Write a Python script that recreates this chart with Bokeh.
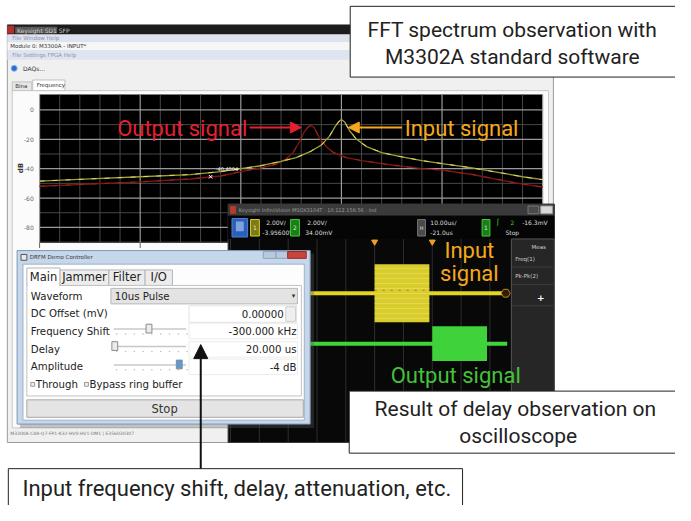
from bokeh.plotting import figure
from bokeh.models import Range1d, Arrow, NormalHead
from bokeh.core.properties import value
from bokeh.embed import file_html
from bokeh.resources import INLINE
import math

# ---------------- data ----------------
# FFT spectrum (frequency in MHz, level in dB)
freq_in_mhz = [0.0, 0.5, 1.0, 1.5, 1.8, 2.0, 2.2, 2.4, 2.55, 2.7, 2.8, 2.88, 2.94, 2.98, 3.0,
               3.03, 3.08, 3.15, 3.25, 3.4, 3.6, 3.8, 4.0, 4.3, 4.6, 4.8, 5.0]
input_db = [-48.5, -47.0, -45.5, -44.0, -42.0, -40.0, -38.0, -35.0, -32.5, -28.0, -24.0, -18.0, -11.0, -7.5, -6.6,
            -8.0, -14.0, -20.0, -25.0, -29.0, -32.0, -34.5, -36.5, -39.5, -43.0, -45.5, -47.5]
freq_out_mhz = [0.0, 0.5, 1.0, 1.5, 1.8, 2.0, 2.2, 2.35, 2.45, 2.52, 2.58, 2.63, 2.67, 2.7,
                2.73, 2.78, 2.85, 2.92, 3.05, 3.2, 3.5, 3.8, 4.0, 4.3, 4.6, 4.8, 5.0]
output_db = [-52.0, -50.5, -49.0, -47.0, -45.0, -42.0, -39.5, -37.0, -33.5, -29.0, -22.0, -15.0, -11.5, -10.6,
             -12.0, -19.0, -25.0, -29.0, -32.5, -34.5, -37.5, -40.0, -41.0, -44.0, -48.0, -50.5, -52.5]
db_ticks = [0, -20, -40, -60, -80]
db_tick_labels = ["0", "-20", "-40", "-60", "-80"]
db_minor = [-10, -30, -50, -70, -90]
freq_major = [0, 1, 2, 3, 4, 5]
freq_minor = [0.2, 0.4, 0.6, 0.8, 1.2, 1.4, 1.6, 1.8, 2.2, 2.4, 2.6, 2.8,
              3.2, 3.4, 3.6, 3.8, 4.2, 4.4, 4.6, 4.8]
fft_freq_span = [0.0, 5.0]
fft_db_span = [10.5, -90.5]
marker_freq = [1.7]
marker_db = [-45.5]
marker_label = ["-40.4004"]
marker_label_db = [-40.4]

# oscilloscope (time in us, normalised amplitude)
scope_time_span = [-50.0, 46.0]
scope_grid_us = [-50, -40, -30, -20, -10, 0, 10, 20, 30, 40]
input_pulse_us = [0.0, 19.0]
output_pulse_us = [20.0, 39.0]
input_amp = 1.0
output_amp = 0.6   # about -4 dB

# controller
tab_names = ["Main", "Jammer", "Filter", "I/O"]
row_labels = ["Waveform", "DC Offset (mV)", "Frequency Shift", "Delay", "Amplitude"]
row_values = ["10us Pulse", "0.00000", "-300.000 kHz", "20.000 us", "-4 dB"]

# ---------------- helpers ----------------
def lin(px, px0, v0, px1, v1):
    return v0 + (px - px0) * (v1 - v0) / (px1 - px0)

X0, X1, Y0, Y1 = 0, 691, 0, 521   # picture pixels

p = figure(width=675, height=505, x_range=Range1d(X0, X1), y_range=Range1d(Y1, Y0),
           x_axis_location=None, y_axis_location=None, toolbar_location=None,
           output_backend="svg", min_border=0, outline_line_color=None,
           background_fill_color="white", border_fill_color="white")
p.grid.visible = False

# FFT scales
p.extra_x_ranges["fx"] = Range1d(lin(X0, 40, 0, 555, 5), lin(X1, 40, 0, 555, 5))
p.extra_y_ranges["fy"] = Range1d(lin(Y1, 97, 10.5, 250, -90.5), lin(Y0, 97, 10.5, 250, -90.5))
# scope scales
p.extra_x_ranges["st"] = Range1d(lin(X0, 383, 0, 442, 20), lin(X1, 383, 0, 442, 20))
p.extra_y_ranges["c1"] = Range1d(lin(Y1, 302, 0, 272, 1), lin(Y0, 302, 0, 272, 1))
p.extra_y_ranges["c2"] = Range1d(lin(Y1, 354, 0, 324, 1), lin(Y0, 354, 0, 324, 1))


def rect(l, r, t, b, fill, line=None, lw=1, alpha=1.0, **kw):
    p.quad(left=[l], right=[r], top=[t], bottom=[b], fill_color=fill, fill_alpha=alpha,
           line_color=line, line_width=lw, **kw)


def txt(x, y, s, size, color, font="DejaVu Sans", align="left", base="middle", style="normal", angle=0, **kw):
    p.text(x=[x], y=[y], text=[s], text_font=value(font), text_font_size=f"{size}px",
           text_color=color, text_align=align, text_baseline=base, text_font_style=style,
           angle=angle, **kw)

# ---------------- FFT software window ----------------
rect(7, 566, 25, 456, "#f0f0f0", "#9a9a9a")
rect(7, 566, 25, 35, "#1c1c1c")
rect(7, 14, 26, 34, "#b03030")
rect(15, 58, 27, 34, "#5a5a5a")
txt(17, 30.5, "Keysight SD1 SFP", 6, "#c8c8c8")
rect(7, 566, 35, 43, "#dde2ee")
txt(12, 39, "File    Window    Help", 5.5, "#8d93a8")
rect(7, 566, 43, 51, "#f6f6f6")
txt(10, 47, "Module 0: M3300A - INPUT*", 5.5, "#333333")
rect(7, 566, 51, 61, "#dfe4f1")
txt(12, 56, "File    Settings    FPGA    Help", 5.5, "#8d93a8")
p.scatter(x=[14], y=[70], size=6, fill_color="#2a6fcf", line_color="#8fb5e8")
txt(23, 70, "DAQs...", 6, "#333333")
rect(12, 32, 84, 93, "#e6e6e6", "#c0c0c0")
txt(15, 88.5, "Bina", 5.5, "#333333")
rect(33, 66, 82, 93, "white", "#c0c0c0")
txt(37, 87.5, "Frequency", 5.5, "#333333")
rect(12, 561, 93, 441, "#fbfbfb", "#c8c8c8")
txt(10, 447, "M3300A-C48-Q7-FP1-K32-HV0-HV1-DM1  |  E356030307", 4.5, "#777777")

# FFT plot area
p.quad(left=[fft_freq_span[0]], right=[fft_freq_span[1]], top=[fft_db_span[0]], bottom=[fft_db_span[1]],
       fill_color="black", line_color=None, x_range_name="fx", y_range_name="fy")
p.segment(x0=freq_minor, x1=freq_minor, y0=[fft_db_span[0]] * len(freq_minor), y1=[fft_db_span[1]] * len(freq_minor),
          line_color="#474747", line_width=1, x_range_name="fx", y_range_name="fy")
p.segment(x0=[fft_freq_span[0]] * len(db_minor), x1=[fft_freq_span[1]] * len(db_minor), y0=db_minor, y1=db_minor,
          line_color="#474747", line_width=1, x_range_name="fx", y_range_name="fy")
p.segment(x0=freq_major, x1=freq_major, y0=[fft_db_span[0]] * len(freq_major), y1=[fft_db_span[1]] * len(freq_major),
          line_color="#9a9a9a", line_width=1.2, x_range_name="fx", y_range_name="fy")
p.segment(x0=[fft_freq_span[0]] * len(db_ticks), x1=[fft_freq_span[1]] * len(db_ticks), y0=db_ticks, y1=db_ticks,
          line_color="#9a9a9a", line_width=1.2, x_range_name="fx", y_range_name="fy")
p.segment(x0=freq_major, x1=freq_major, y0=[fft_db_span[1]] * len(freq_major), y1=[-94] * len(freq_major),
          line_color="#666666", line_width=1, x_range_name="fx", y_range_name="fy")
p.text(x=[34] * len(db_ticks), y=db_ticks, text=db_tick_labels, text_font=value("DejaVu Sans"),
       text_font_size="6px", text_color="#666666", text_align="right", text_baseline="middle",
       y_range_name="fy")
txt(21, 173, "dB", 7, "#333333", style="bold", align="center", angle=math.pi / 2)

# spectra
p.line(freq_out_mhz, output_db, line_color="#7e1515", line_width=1.4, x_range_name="fx", y_range_name="fy")
p.line(freq_out_mhz, output_db, line_color="#a42626", line_width=0.9, line_dash="5 8",
       x_range_name="fx", y_range_name="fy")
p.line(freq_in_mhz, input_db, line_color="#9e9e36", line_width=1.3, x_range_name="fx", y_range_name="fy")
p.line(freq_in_mhz, input_db, line_color="#e4e474", line_width=0.9, line_dash="5 8",
       x_range_name="fx", y_range_name="fy")
p.scatter(marker_freq, marker_db, marker="x", size=5, line_color="white", x_range_name="fx", y_range_name="fy")
p.text(x=[m + 0.05 for m in marker_freq], y=marker_label_db, text=marker_label, text_font=value("DejaVu Sans"),
       text_font_size="5px", text_color="white", text_baseline="middle", x_range_name="fx", y_range_name="fy")

# ---------------- oscilloscope window ----------------
rect(233, 567, 210, 456, "#080808", "#3a3a3a")
rect(233, 567, 210, 222, "#3a3a3a")
rect(235, 241, 212, 220, "#b83a2a")
txt(244, 216, "Keysight InfiniiVision MSOX3104T : 10.112.156.56 : Ind", 5, "#9a9a9a")
rect(540, 551, 212, 220, "#4a4a4a", "#777777")
rect(553, 565, 212, 220, "#d8d8d8", "#999999")
rect(233, 567, 222, 246, "#050505")
rect(237, 253, 225, 244, "#2b5fb8", "#4f80d8")
rect(241, 249, 228, 238, "#7fa3dd")
rect(256, 265, 226, 243, "#7d7a18", "#d6d030")
txt(260.5, 234.5, "1", 6, "#f0f0a0", align="center")
txt(272, 229, "2.00V/", 6, "#dddddd")
txt(268, 239, "-3.95600V", 6, "#dddddd")
rect(297, 306, 226, 243, "#1c7d1c", "#3fcf3a")
txt(301.5, 234.5, "2", 6, "#c8f0c8", align="center")
txt(314, 229, "2.00V/", 6, "#dddddd")
txt(312, 239, "34.00mV", 6, "#dddddd")
rect(427, 435, 226, 243, "#4a4a4a", "#777777")
txt(431, 234.5, "H", 5, "#dddddd", align="center")
txt(440, 229, "10.00us/", 6, "#dddddd")
txt(440, 239, "-21.0us", 6, "#dddddd")
rect(493, 501, 226, 243, "#1c7d1c", "#3fcf3a")
txt(497, 234.5, "1", 6, "#c8f0c8", align="center")
txt(508, 229, "\u0283", 7, "#3fcf3a")
txt(522, 229, "2", 6, "#3fcf3a")
txt(534, 229, "-16.3mV", 6, "#dddddd")
txt(517, 239, "Stop", 6, "#dddddd")

# scope graticule
p.segment(x0=scope_grid_us, x1=scope_grid_us, y0=[246] * len(scope_grid_us), y1=[456] * len(scope_grid_us),
          line_color="#2e2e2e", line_width=1, x_range_name="st")
# trigger markers
p.scatter(x=[input_pulse_us[0], output_pulse_us[0]], y=[249, 249], marker="inverted_triangle", size=6,
          fill_color="#f0a020", line_color="#f0a020", x_range_name="st")
# traces
p.segment(x0=[scope_time_span[0]], x1=[scope_time_span[1]], y0=[0], y1=[0], line_color="#e3d522",
          line_width=4, x_range_name="st", y_range_name="c1")
p.segment(x0=[scope_time_span[0]], x1=[scope_time_span[1]], y0=[0], y1=[0], line_color="#3fd43a",
          line_width=4, x_range_name="st", y_range_name="c2")
p.quad(left=[input_pulse_us[0]], right=[input_pulse_us[1]], top=[input_amp], bottom=[-input_amp],
       fill_color="#d8cd2c", line_color=None, hatch_pattern="horizontal_line", hatch_color="#efe77a",
       hatch_alpha=0.45, hatch_scale=5, x_range_name="st", y_range_name="c1")
p.segment(x0=[input_pulse_us[0]], x1=[input_pulse_us[1]], y0=[0.1], y1=[0.1], line_color="#c07a10",
          line_width=1, line_dash="2 6", x_range_name="st", y_range_name="c1")
p.quad(left=[output_pulse_us[0]], right=[output_pulse_us[1]], top=[output_amp], bottom=[-output_amp],
       fill_color="#3fd23a", line_color=None, x_range_name="st", y_range_name="c2")
p.scatter(x=[45.5], y=[302], marker="hex", size=9, fill_color="#2a2000", line_color="#c08020",
          x_range_name="st")
# measurement panel
rect(523, 567, 246, 456, "#262626", "#555555")
txt(551, 254, "Meas", 5.5, "#cfcfcf", align="center")
txt(527, 267, "Freq(1)", 5.5, "#cfcfcf")
txt(527, 284, "Pk-Pk(2)", 5.5, "#cfcfcf")
txt(553, 306, "+", 9, "#ffffff", align="center", style="bold")
p.segment(x0=[524, 524, 524], x1=[566, 566, 566], y0=[275, 293, 315], y1=[275, 293, 315],
          line_color="#3c3c3c", line_width=1)

# ---------------- controller window ----------------
rect(20, 321, 261, 441, "#5a5a5a", alpha=0.35)
rect(17, 317, 258, 437, "#c6d7eb", "#7f97b5")
rect(21, 27, 262, 268, "#e8e8e8", "#555555")
txt(30, 265, "DRFM Demo Controller", 5.5, "#333333")
rect(269, 282, 259, 266, "#b9c9de", "#8ea3bf")
rect(282, 294, 259, 266, "#b9c9de", "#8ea3bf")
rect(294, 313, 259, 266, "#c8453c", "#9a2a22")
rect(23, 311, 272, 433, "#fdfdfd", "#9fb2c9")
tab_edges = [27, 61, 111, 148, 176]
for i, name in enumerate(tab_names):
    sel = i == 0
    rect(tab_edges[i], tab_edges[i + 1], 276 if sel else 278, 294, "white" if sel else "#ececec", "#b5b5b5")
    txt((tab_edges[i] + tab_edges[i + 1]) / 2, 285, name, 11.5, "#222222", align="center")
rect(27, 308, 294, 408, "white", "#c3c3c3")
rect(28, 60, 293, 295, "white")
row_y = [305, 323, 341, 360, 378]
for yy, lab in zip(row_y, row_labels):
    txt(31, yy, lab, 10.2, "#222222")
rect(113, 304, 297, 313, "#e3e3e3", "#b8b8b8")
txt(117, 305, row_values[0], 10.2, "#222222")
txt(300, 305, "\u25be", 7, "#333333", align="center")
rect(193, 303, 315, 332, "white", "#e2e2e2")
rect(292, 302, 316, 331, "#efefef", "#d0d0d0")
txt(290, 323.5, row_values[1], 10.2, "#222222", align="right")
for yy, val in zip(row_y[2:], row_values[2:]):
    rect(193, 304, yy - 8, yy + 8, "white", "#ececec")
    txt(303, yy + 0.5, val, 10.2, "#222222", align="right")
slider_y = [339, 357, 376]
slider_pos = [152, 117, 183]
for sy, sx, idx in zip(slider_y, slider_pos, range(3)):
    p.segment(x0=[116], x1=[190], y0=[sy], y1=[sy], line_color="#c8c8c8", line_width=1.5)
    p.scatter(x=[119 + 9 * k for k in range(9)], y=[sy + 5] * 9, size=1.5, fill_color="#bbbbbb", line_color=None)
    rect(sx - 3, sx + 3, sy - 5, sy + 4, "#5b9bd8" if idx == 2 else "#ececec", "#8a8a8a")
rect(31, 35, 394, 398, "#eeeeee", "#9a9a9a")
txt(36, 396.5, "Through", 10.2, "#222222")
rect(86, 90, 394, 398, "#eeeeee", "#9a9a9a")
txt(91, 396.5, "Bypass ring buffer", 10.2, "#222222")
rect(27, 310, 412, 430, "#e4e4e4", "#a8a8a8")
txt(168, 421.5, "Stop", 11.5, "#333333", align="center")

# ---------------- annotations ----------------
RED = "#e4202f"
ORANGE = "#f5a81c"
GREEN = "#45c23b"
txt(186, 132, "Output signal", 22, RED, font="Roboto", align="center")
p.add_layout(Arrow(end=NormalHead(size=11, fill_color=RED, line_color=RED), x_start=255, y_start=131,
                   x_end=308, y_end=131, line_color=RED, line_width=2))
txt(472, 132, "Input signal", 22, ORANGE, font="Roboto", align="center")
p.add_layout(Arrow(end=NormalHead(size=11, fill_color=ORANGE, line_color=ORANGE), x_start=411, y_start=131,
                   x_end=356, y_end=131, line_color=ORANGE, line_width=2))
txt(480, 258, "Input", 22, ORANGE, font="Roboto", align="center")
txt(480, 282, "signal", 22, ORANGE, font="Roboto", align="center")
txt(466, 387, "Output signal", 22, GREEN, font="Roboto", align="center")

# callout boxes
rect(358, 700, 6, 79, "white", "#222222")
txt(524, 30, "FFT spectrum observation with", 21, "#222222", font="Roboto", align="center")
txt(524, 58, "M3302A standard software", 21, "#222222", font="Roboto", align="center")
rect(357, 700, 403, 467, "white", "#222222")
txt(527, 421, "Result of delay observation on", 21, "#222222", font="Roboto", align="center")
txt(530, 449, "oscilloscope", 21, "#222222", font="Roboto", align="center")
rect(8, 473, 483, 530, "white", "#222222")
txt(242, 503, "Input frequency shift, delay, attenuation, etc.", 22, "#222222", font="Roboto", align="center")
p.add_layout(Arrow(end=NormalHead(size=14, fill_color="#111111", line_color="#111111"), x_start=205, y_start=483,
                   x_end=205, y_end=355, line_color="#111111", line_width=2))

open("out.html", "w").write(file_html(p, INLINE))
